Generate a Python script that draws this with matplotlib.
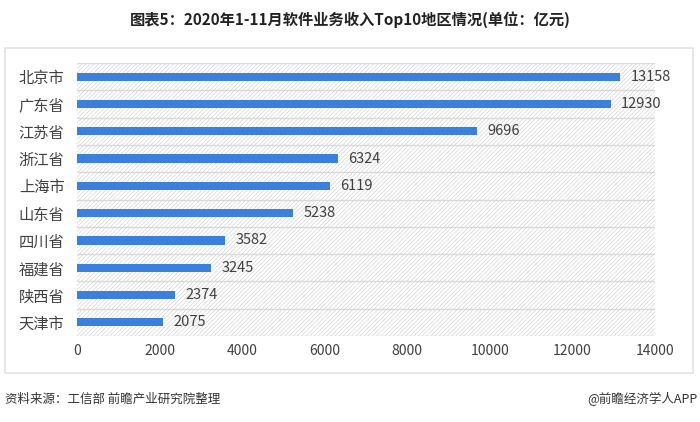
import matplotlib.pyplot as plt
from matplotlib.patches import Rectangle

plt.rcParams['font.family'] = ['Noto Sans CJK SC', 'DejaVu Sans']

regions = ["北京市", "广东省", "江苏省", "浙江省", "上海市", "山东省", "四川省", "福建省", "陕西省", "天津市"]
revenue = [13158, 12930, 9696, 6324, 6119, 5238, 3582, 3245, 2374, 2075]
xticks = [0, 2000, 4000, 6000, 8000, 10000, 12000, 14000]

W, H = 700, 422
fig = plt.figure(figsize=(W / 100, H / 100), dpi=100)
plt.rcParams['hatch.linewidth'] = 0.5
plt.rcParams['hatch.color'] = '#d6d6d6'

# outer frame
fig.patches.append(Rectangle((5 / W, 1 - 373 / H), 688 / W, 325 / H, transform=fig.transFigure,
                             fill=False, edgecolor='#e3e3e3', linewidth=1.2))

ax = fig.add_axes([77 / W, 1 - 336 / H, 578 / W, 273 / H])
ax.add_patch(Rectangle((0, 0), 1, 1, transform=ax.transAxes, facecolor='white',
                       edgecolor='#d6d6d6', hatch='////////', linewidth=0, zorder=0))

n = len(regions)
pos = list(range(n))
ax.barh(pos, revenue, height=0.3, color='#3b80dd', zorder=3)
for p, v in zip(pos, revenue):
    ax.text(v + 250, p, str(v), va='center', ha='left', fontsize=10.5, color='#404040')

ax.set_ylim(n - 0.5, -0.5)
ax.set_xlim(0, 14000)
ax.set_xticks(xticks)
ax.set_xticklabels([str(t) for t in xticks], fontsize=10, color='#404040')
ax.set_yticks(pos)
ax.set_yticklabels(regions, fontsize=11, color='#404040')
for b in range(n + 1):
    ax.axhline(b - 0.5, color='#d9d9d9', linewidth=1, zorder=1)
for s in ax.spines.values():
    s.set_visible(False)
ax.tick_params(axis='y', length=0, pad=9)
ax.tick_params(axis='x', length=0, pad=6)

fig.text(0.5, 1 - 20 / H, "图表5：2020年1-11月软件业务收入Top10地区情况(单位：亿元)",
         ha='center', va='center', fontsize=11, fontweight='bold', color='#222222')
fig.text(5 / W, 1 - 399 / H, "资料来源：工信部 前瞻产业研究院整理",
         ha='left', va='center', fontsize=9, color='#333333')
fig.text(697 / W, 1 - 399 / H, "@前瞻经济学人APP",
         ha='right', va='center', fontsize=9, color='#333333')

fig.savefig("out.png", dpi=100)
